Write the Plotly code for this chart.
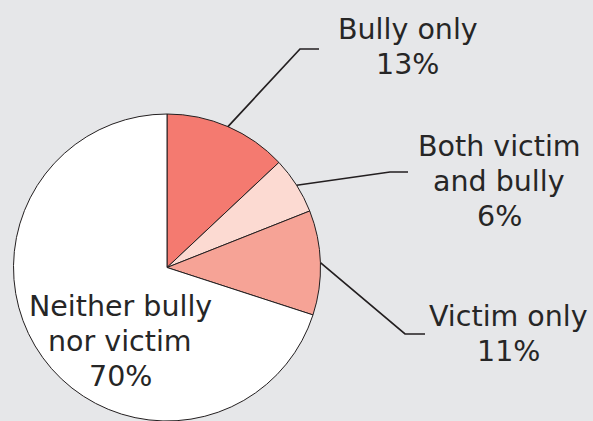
import math
import plotly.graph_objects as go

categories = ["Bully only", "Both victim and bully", "Victim only", "Neither bully nor victim"]
label_lines = [["Bully only"], ["Both victim", "and bully"], ["Victim only"], ["Neither bully", "nor victim"]]
values = [13, 6, 11, 70]
colors = ["#f47a70", "#fcdad2", "#f6a396", "#ffffff"]

W, H = 593, 421
BG = "#e6e7e9"
TXT = "#262626"
FONT = 28.5
LINE_GAP = 35

def px(x, y):
    return x / W, 1 - y / H

# pie placement (pixels)
dom_x = (11, 323)
dom_y_top = 114

fig = go.Figure()
fig.add_trace(go.Pie(
    labels=categories, values=values, sort=False, direction="clockwise", rotation=0,
    marker=dict(colors=colors, line=dict(color="#231f20", width=1)),
    textinfo="none", hoverinfo="label+percent", showlegend=False,
    domain=dict(x=[dom_x[0] / W, dom_x[1] / W], y=[0, 1 - dom_y_top / H]),
))

cx = (dom_x[0] + dom_x[1]) / 2
r = min(dom_x[1] - dom_x[0], H - dom_y_top) / 2
cy = H - r

total = sum(values)
cum = 0
mids = []
for v in values:
    mids.append((cum + v / 2) / total * 2 * math.pi)
    cum += v

# label anchor: (center x, center y of first line) in pixels, and leader elbows
label_pos = [(407.5, 29.3), (499, 146), (508, 316), (120, 306.7)]
elbows = [((300, 49), (319, 49)), ((390, 172), (408, 172)), ((405, 334), (425, 334)), None]

for i, cat in enumerate(categories):
    lines = label_lines[i] + [f"{round(values[i] / total * 100)}%"]
    lx, ly = label_pos[i]
    for j, line in enumerate(lines):
        x, y = px(lx, ly + j * LINE_GAP)
        fig.add_annotation(x=x, y=y, xref="paper", yref="paper", text=line, showarrow=False,
                           xanchor="center", yanchor="middle", align="center",
                           font=dict(family="DejaVu Sans", size=FONT, color=TXT))
    if elbows[i]:
        a = mids[i]
        sx, sy = cx + r * math.sin(a), cy - r * math.cos(a)
        (ex, ey), (hx, hy) = elbows[i]
        pts = [px(sx, sy), px(ex, ey), px(hx, hy)]
        path = "M {} {} L {} {} L {} {}".format(*[c for p in pts for c in p])
        fig.add_shape(type="path", path=path, xref="paper", yref="paper",
                      line=dict(color="#231f20", width=1.7))

fig.update_layout(
    width=W, height=H, margin=dict(l=0, r=0, t=0, b=0),
    paper_bgcolor=BG, plot_bgcolor=BG,
)
fig.write_html("out.html", config={"displayModeBar": False},
               post_script="document.body.style.margin='0';document.body.style.overflow='hidden';")
